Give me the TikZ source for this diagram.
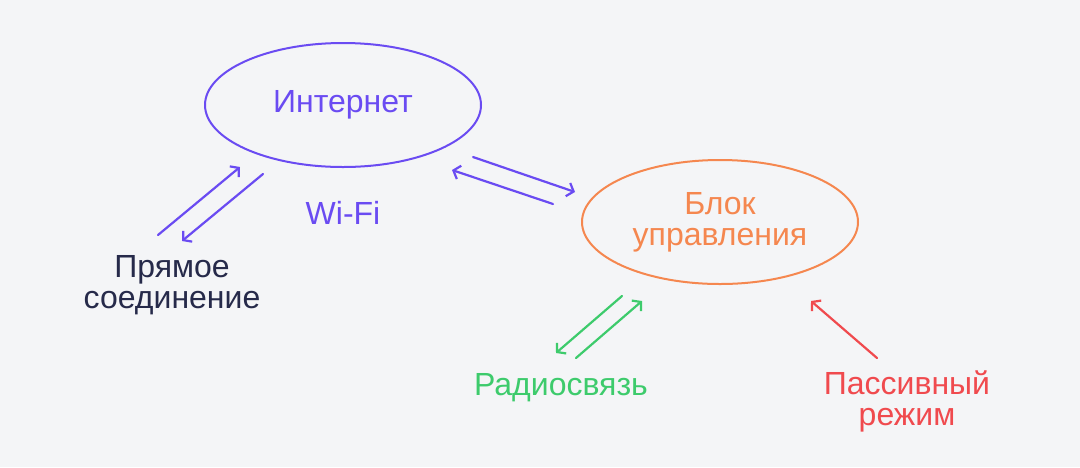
\documentclass[tikz,border=0pt]{standalone}
\usepackage{fontspec}
\setmainfont{Liberation Sans}
\usetikzlibrary{arrows.meta,shapes.geometric}
\definecolor{bgc}{HTML}{F4F5F7}
\definecolor{violet}{HTML}{6A4BF2}
\definecolor{peach}{HTML}{F5874F}
\definecolor{leaf}{HTML}{3DCB6C}
\definecolor{coral}{HTML}{F04A4E}
\definecolor{ink}{HTML}{262A4A}
\tikzset{
  oval/.style={ellipse, draw, line width=2pt, minimum width=276pt, minimum height=124pt, align=center},
  lbl/.style={align=center, font=\fontsize{32}{31}\selectfont},
  link/.style={line width=2.2pt, line cap=round, -{Straight Barb[length=6pt,width=14pt,line width=2.2pt]}}
}
\begin{document}
\begin{tikzpicture}[x=1pt,y=-1pt]
	\fill[bgc] (0,0) rectangle (1080,467);
	\useasboundingbox (0,0) rectangle (1080,467);
	\node[oval,violet,lbl] (net) at (343,105) {Интернет};
	\node[oval,peach,lbl] (box) at (720,222) {Блок\\управления};
	\node[lbl,violet] (wifi) at (343,213) {Wi-Fi};
	\node[lbl,ink] (direct) at (172,285) {Прямое\\соединение};
	\node[lbl,leaf] (radio) at (561,388) {Радиосвязь};
	\node[lbl,coral] (passive) at (907,401) {Пассивный\\режим};
	% arrow ends
	\coordinate (a1) at (158,235); \coordinate (a2) at (240,167);
	\coordinate (b1) at (263,174); \coordinate (b2) at (182,241);
	\coordinate (c1) at (473,157); \coordinate (c2) at (575,192);
	\coordinate (d1) at (553,204); \coordinate (d2) at (452,170);
	\coordinate (e1) at (622,296); \coordinate (e2) at (556,353);
	\coordinate (f1) at (576,358); \coordinate (f2) at (642,301);
	\coordinate (g1) at (877,358); \coordinate (g2) at (811,301);
	\foreach \s/\t in {a1/a2,b1/b2,c1/c2,d1/d2}{
		\draw[link,violet] (\s)--(\t);}
	\foreach \s/\t in {e1/e2,f1/f2}{
		\draw[link,leaf] (\s)--(\t);}
	\draw[link,coral] (g1)--(g2);
\end{tikzpicture}
\end{document}
